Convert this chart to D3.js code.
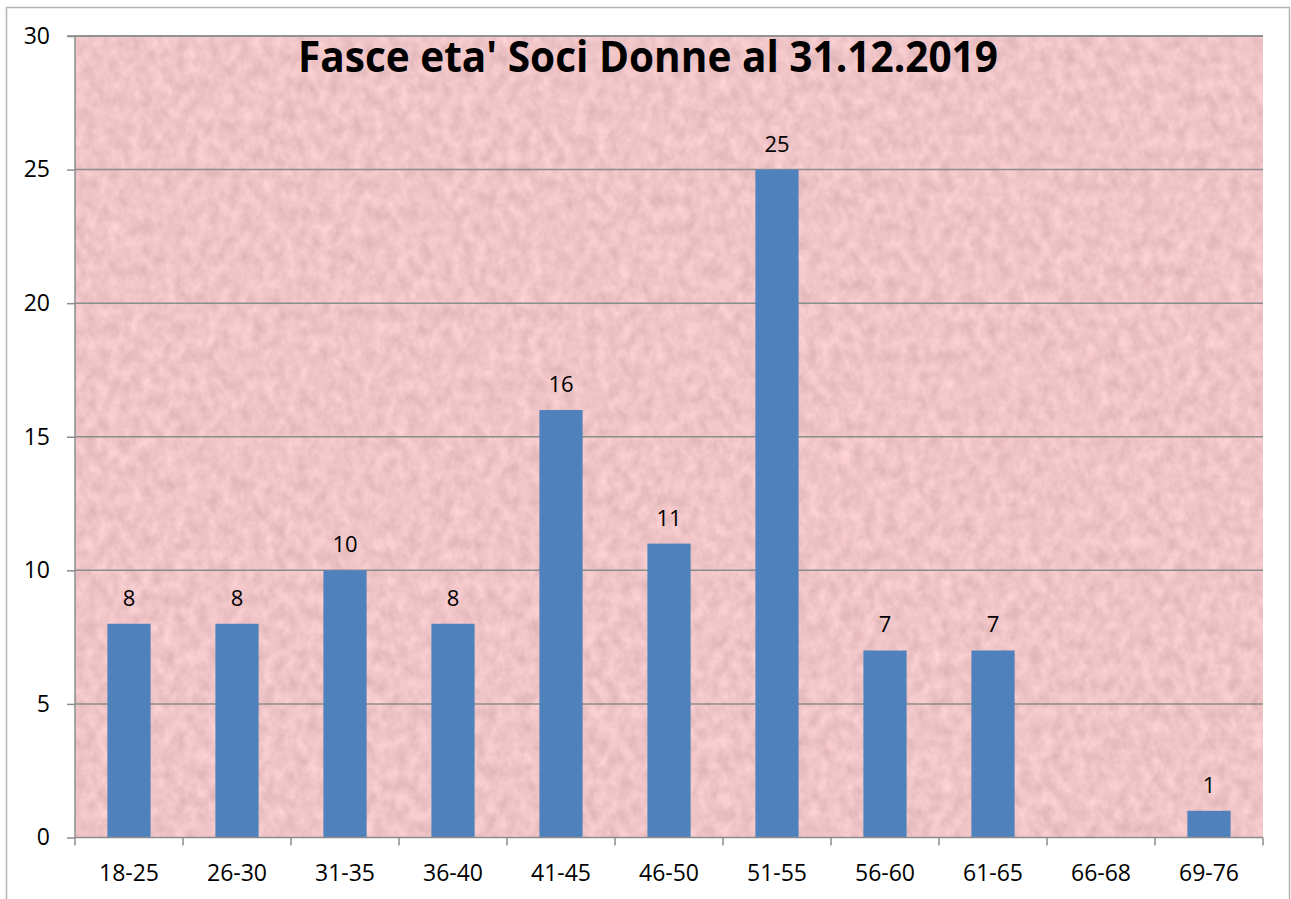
<!DOCTYPE html>
<html>
<head>
<meta charset="utf-8">
<script src="https://cdn.jsdelivr.net/npm/d3@7"></script>
<style>
  body { margin: 0; background: #fff; }
  svg text { font-family: "Open Sans", "Liberation Sans", sans-serif; fill: #000; }
</style>
</head>
<body>
<svg id="chart"></svg>
<script>
const title = "Fasce eta' Soci Donne al 31.12.2019";
const categories = ["18-25", "26-30", "31-35", "36-40", "41-45", "46-50", "51-55", "56-60", "61-65", "66-68", "69-76"];
const values = [8, 8, 10, 8, 16, 11, 25, 7, 7, 0, 1];
const yTicks = [0, 5, 10, 15, 20, 25, 30];

const width = 1291, height = 899;
const margin = { top: 36, right: 28, bottom: 61.5, left: 75 };
const innerW = width - margin.left - margin.right;
const innerH = height - margin.top - margin.bottom;
const labelSize = 23;

const svg = d3.select("#chart").attr("width", width).attr("height", height);

// outer chart frame
svg.append("rect")
  .attr("x", 6.5).attr("y", 7.5)
  .attr("width", 1283).attr("height", 900)
  .attr("fill", "#fff")
  .attr("stroke", "#b3b3b3")
  .attr("stroke-width", 1.5);

// mottled pink paper texture for the plot area
const defs = svg.append("defs");
const filt = defs.append("filter").attr("id", "paper")
  .attr("x", 0).attr("y", 0).attr("width", 1).attr("height", 1)
  .attr("color-interpolation-filters", "sRGB");
filt.append("feTurbulence")
  .attr("type", "fractalNoise")
  .attr("baseFrequency", "0.09 0.07")
  .attr("numOctaves", 4)
  .attr("seed", 7)
  .attr("result", "noise");
filt.append("feColorMatrix")
  .attr("in", "noise")
  .attr("type", "matrix")
  .attr("values", "0.16 0 0 0 0.86  0.16 0 0 0 0.69  0.16 0 0 0 0.70  0 0 0 0 1");

const g = svg.append("g").attr("transform", `translate(${margin.left},${margin.top})`);

g.append("rect")
  .attr("width", innerW).attr("height", innerH)
  .attr("fill", "#efc3c6")
  .attr("filter", "url(#paper)");

const x = d3.scaleBand().domain(categories).range([0, innerW]).paddingInner(0.6).paddingOuter(0.3);
const y = d3.scaleLinear().domain([0, 30]).range([innerH, 0]);

// gridlines
g.append("g")
  .selectAll("line")
  .data(yTicks.filter(d => d > 0))
  .join("line")
  .attr("x1", 0).attr("x2", innerW)
  .attr("y1", d => y(d)).attr("y2", d => y(d))
  .attr("stroke", "#8c8c8c")
  .attr("stroke-width", 1.5);

const rows = categories.map((c, i) => ({ c, v: values[i] })).filter(d => d.v > 0);

// bars
g.append("g")
  .selectAll("rect")
  .data(rows)
  .join("rect")
  .attr("x", d => x(d.c))
  .attr("y", d => y(d.v))
  .attr("width", x.bandwidth())
  .attr("height", d => innerH - y(d.v))
  .attr("fill", "#4f81bd");

// data labels
g.append("g")
  .selectAll("text")
  .data(rows)
  .join("text")
  .attr("x", d => x(d.c) + x.bandwidth() / 2)
  .attr("y", d => y(d.v) - 18)
  .attr("text-anchor", "middle")
  .attr("font-size", labelSize - 1)
  .text(d => d.v);

// x axis: line, boundary ticks, category labels
const xAxis = g.append("g").attr("transform", `translate(0,${innerH})`);
const bounds = d3.range(categories.length + 1).map(i => i * x.step());
xAxis.selectAll("line.bound")
  .data(bounds)
  .join("line")
  .attr("class", "bound")
  .attr("x1", d => d).attr("x2", d => d)
  .attr("y1", 0).attr("y2", 8)
  .attr("stroke", "#8c8c8c").attr("stroke-width", 1.5);
xAxis.append("line")
  .attr("x1", 0).attr("x2", innerW)
  .attr("stroke", "#8c8c8c").attr("stroke-width", 1.5);
xAxis.selectAll("text.cat")
  .data(categories)
  .join("text")
  .attr("class", "cat")
  .attr("x", d => x(d) + x.bandwidth() / 2)
  .attr("y", 43)
  .attr("text-anchor", "middle")
  .attr("font-size", labelSize)
  .text(d => d);

const yAxis = g.append("g")
  .call(d3.axisLeft(y).tickValues(yTicks).tickSize(8).tickPadding(17).tickFormat(d3.format("d")));
yAxis.select(".domain").attr("stroke", "#8c8c8c").attr("stroke-width", 1.5)
  .attr("d", `M0,${innerH}V0`);
yAxis.selectAll(".tick line").attr("stroke", "#8c8c8c").attr("stroke-width", 1.5);
yAxis.selectAll(".tick text")
  .attr("font-size", labelSize)
  .attr("font-family", "\"Open Sans\", sans-serif")
  .attr("fill", "#000");

// top border of plot area
g.append("line")
  .attr("x1", -8).attr("x2", innerW)
  .attr("y1", 0).attr("y2", 0)
  .attr("stroke", "#8c8c8c").attr("stroke-width", 1.5);

// title
svg.append("text")
  .attr("x", 298).attr("y", 72)
  .attr("font-size", 43)
  .attr("font-weight", "bold")
  .attr("textLength", 700)
  .attr("lengthAdjust", "spacingAndGlyphs")
  .text(title);
</script>
</body>
</html>
